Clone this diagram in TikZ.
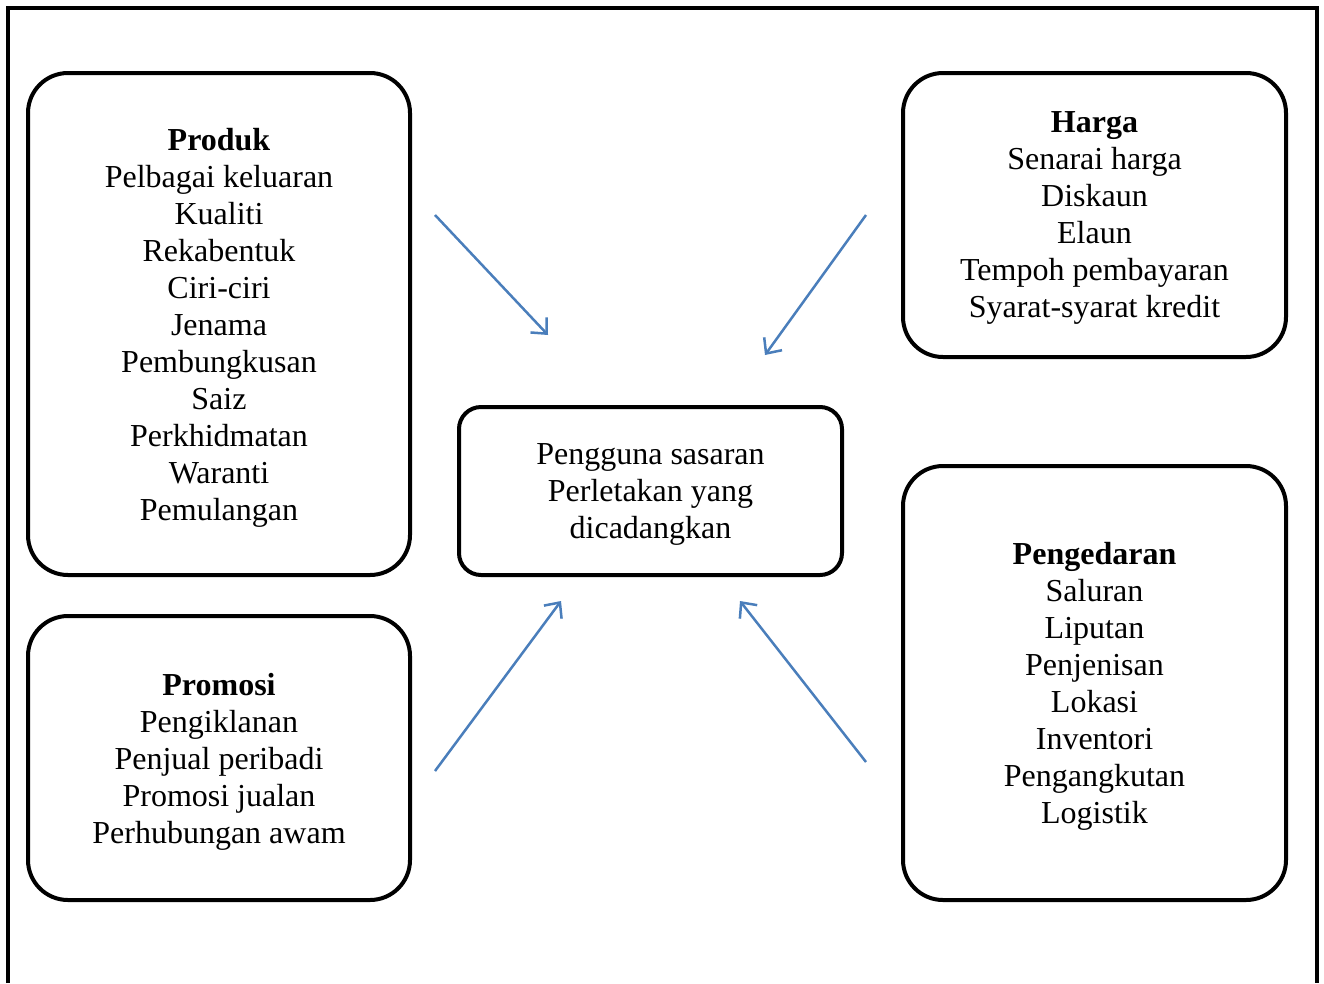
\documentclass[tikz,border=0pt]{standalone}
\usepackage{fontspec}
\setmainfont{Liberation Serif}
\usetikzlibrary{arrows.meta}
\definecolor{arrowblue}{HTML}{4A7EBB}
\begin{document}
\begin{tikzpicture}[x=1pt,y=-1pt,
  box/.style={draw, line width=4pt, rounded corners=#1, align=center, inner sep=0pt,
    text depth=-3pt, font=\fontsize{32}{37}\selectfont},
  box/.default=40pt,
  arr/.style={draw=arrowblue, line width=2.5pt, -{Straight Barb[length=12pt,width=22pt,line width=2.5pt]}}]
\useasboundingbox (0,0) rectangle (1324,983);
\draw[line width=4pt] (8,983) -- (8,8) -- (1317,8) -- (1317,983);
\node[box, minimum width=382pt, minimum height=502pt] (produk) at (219,324)
  {\textbf{Produk}\\Pelbagai keluaran\\Kualiti\\Rekabentuk\\Ciri-ciri\\Jenama\\Pembungkusan\\Saiz\\Perkhidmatan\\Waranti\\Pemulangan};
\node[box, minimum width=383pt, minimum height=284pt] (harga) at (1094.5,215)
  {\textbf{Harga}\\Senarai harga\\Diskaun\\Elaun\\Tempoh pembayaran\\Syarat-syarat kredit};
\node[box=22pt, minimum width=383pt, minimum height=168pt, text depth=-1pt] (pusat) at (650.5,491)
  {Pengguna sasaran\\Perletakan yang\\dicadangkan};
\node[box, minimum width=382pt, minimum height=284pt] (promosi) at (219,758)
  {\textbf{Promosi}\\Pengiklanan\\Penjual peribadi\\Promosi jualan\\Perhubungan awam};
\node[box, minimum width=383pt, minimum height=434pt] (pengedaran) at (1094.5,683)
  {\textbf{Pengedaran}\\Saluran\\Liputan\\Penjenisan\\Lokasi\\Inventori\\Pengangkutan\\Logistik};
\coordinate (a1s) at (435,215); \coordinate (a1e) at (548,335);
\coordinate (a2s) at (866,215); \coordinate (a2e) at (765,355);
\coordinate (a3s) at (435,771); \coordinate (a3e) at (561,601);
\coordinate (a4s) at (866,762); \coordinate (a4e) at (740,601);
\draw[arr] (a1s) -- (a1e);
\draw[arr] (a2s) -- (a2e);
\draw[arr] (a3s) -- (a3e);
\draw[arr] (a4s) -- (a4e);
\end{tikzpicture}
\end{document}
